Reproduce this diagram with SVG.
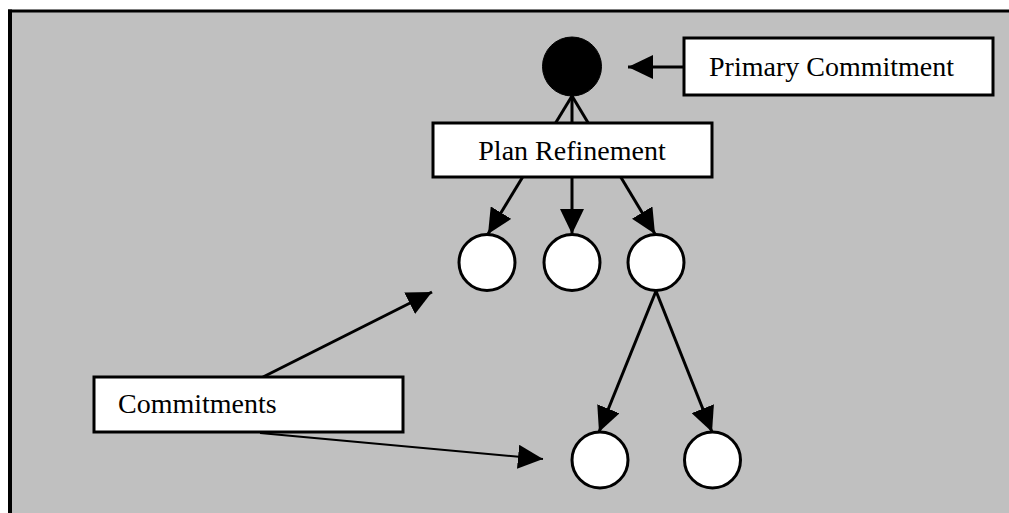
<svg xmlns="http://www.w3.org/2000/svg" width="1009" height="513" viewBox="0 0 1009 513">
  <style>
    .box { fill: #ffffff; stroke: #000000; stroke-width: 3; }
    .node { fill: #ffffff; stroke: #000000; stroke-width: 3; }
    .edge { stroke: #000000; stroke-width: 3; fill: none; }
    .thin { stroke-width: 2; }
    .label { font-family: "Liberation Serif", "Times New Roman", serif; font-size: 28px; fill: #000000; }
  </style>
  <defs>
    <marker id="arrow" markerUnits="userSpaceOnUse" markerWidth="26" markerHeight="24" refX="25" refY="12" orient="auto">
      <path d="M0,0 L25,12 L0,24 Z" fill="#000000"/>
    </marker>
  </defs>
  <rect x="0" y="0" width="1009" height="513" fill="#ffffff"/>
  <rect x="10" y="10.5" width="1009" height="513" fill="#c0c0c0"/>
  <line x1="8" y1="11" x2="1009" y2="11" stroke="#000000" stroke-width="3"/>
  <line x1="10" y1="9.5" x2="10" y2="513" stroke="#000000" stroke-width="4"/>

  <g id="connectors">
    <line class="edge" x1="683" y1="67" x2="628" y2="67" marker-end="url(#arrow)"/>
    <line class="edge" x1="572" y1="96" x2="488" y2="234" marker-end="url(#arrow)"/>
    <line class="edge" x1="572" y1="96" x2="572" y2="234" marker-end="url(#arrow)"/>
    <line class="edge" x1="572" y1="96" x2="655" y2="234" marker-end="url(#arrow)"/>
    <line class="edge" x1="656" y1="291" x2="599" y2="432" marker-end="url(#arrow)"/>
    <line class="edge" x1="656" y1="291" x2="712" y2="432" marker-end="url(#arrow)"/>
    <line class="edge" x1="263" y1="377" x2="432" y2="292" marker-end="url(#arrow)"/>
    <line class="edge thin" x1="260" y1="433" x2="543" y2="459" marker-end="url(#arrow)"/>
  </g>

  <g id="primary-node">
    <circle cx="572" cy="66.5" r="29.5" fill="#000000" stroke="#000000" stroke-width="1"/>
  </g>
  <g id="primary-commitment">
    <rect class="box" x="684" y="38" width="309" height="57"/>
    <text class="label" x="709" y="76">Primary Commitment</text>
  </g>
  <g id="plan-refinement">
    <rect class="box" x="433" y="123" width="279" height="54"/>
    <text class="label" x="572" y="160" text-anchor="middle">Plan Refinement</text>
  </g>
  <g id="c1"><circle class="node" cx="487" cy="262.5" r="28"/></g>
  <g id="c2"><circle class="node" cx="572" cy="262.5" r="28"/></g>
  <g id="c3"><circle class="node" cx="656" cy="262.5" r="28"/></g>
  <g id="c4"><circle class="node" cx="600" cy="460" r="28"/></g>
  <g id="c5"><circle class="node" cx="712.5" cy="460" r="28"/></g>
  <g id="commitments">
    <rect class="box" x="94" y="377" width="309" height="55"/>
    <text class="label" x="118" y="413">Commitments</text>
  </g>
</svg>
